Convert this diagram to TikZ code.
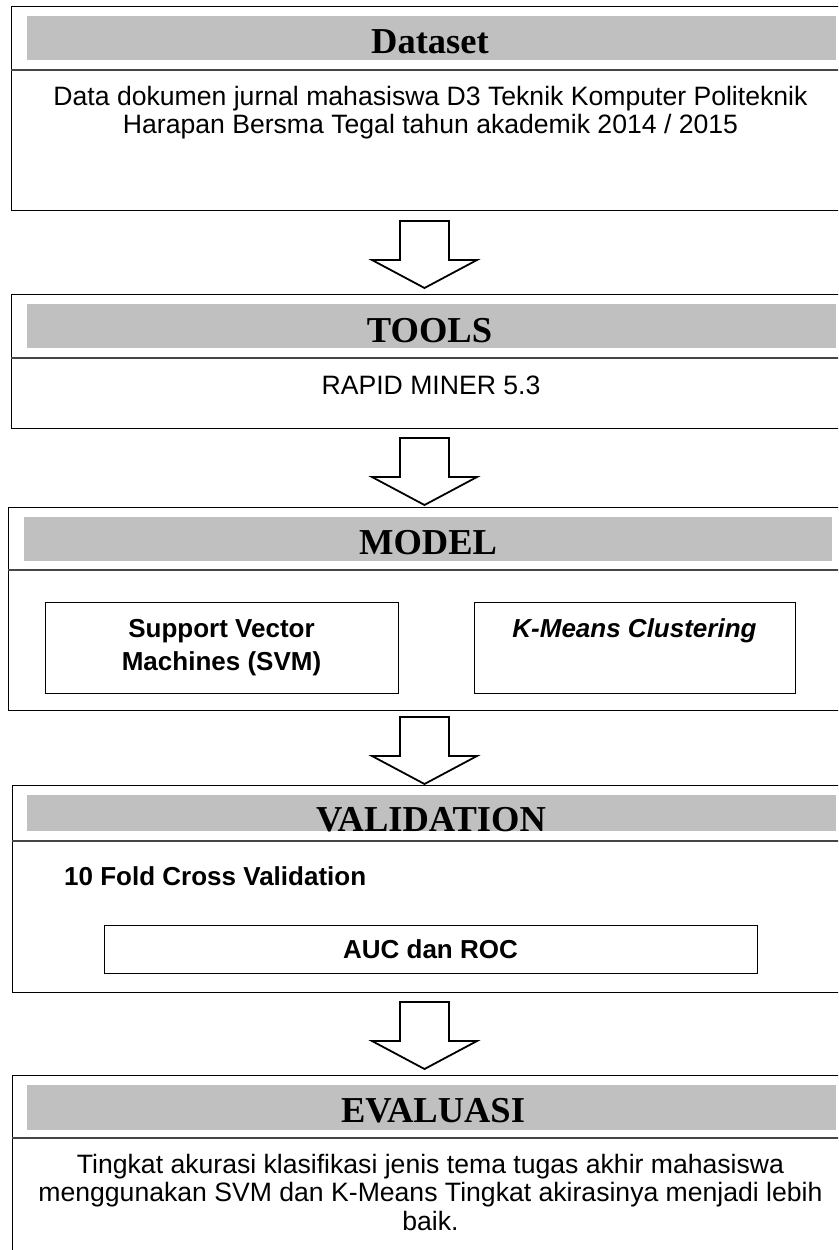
\documentclass[tikz,border=0pt]{standalone}
\usepackage{fontspec}
\setmainfont{Liberation Sans}
\newfontfamily\headfont{Liberation Serif}
\definecolor{barGrey}{RGB}{192,192,192}
\definecolor{sepGrey}{RGB}{70,70,70}
\tikzset{
  outerbox/.style={draw=black, line width=1pt, inner sep=0pt, anchor=north west},
  greybar/.style={fill=barGrey, inner sep=0pt, anchor=north west},
  headtext/.style={font=\headfont\bfseries\fontsize{36.5}{40}\selectfont, inner sep=0pt, anchor=base},
  bodytext/.style={font=\fontsize{26.6}{28.5}\selectfont, inner sep=0pt, align=center, anchor=base},
  boldtext/.style={font=\bfseries\fontsize{26}{33}\selectfont, inner sep=0pt, align=center, anchor=base},
  innerbox/.style={draw=black, line width=0.9pt, inner sep=0pt, anchor=north west},
  sepline/.style={draw=sepGrey, line width=1.3pt},
  blockarrow/.style={draw=black, line width=1.8pt, fill=white, line join=miter}
}
\begin{document}
\begin{tikzpicture}[x=1pt, y=-1pt]
  \useasboundingbox (0,0) rectangle (838,1250);
  \clip (0,0) rectangle (838,1250);
  \fill[white] (0,0) rectangle (838,1250);
  % Dataset
  \node[outerbox, minimum width=839, minimum height=204] (dataset) at (11,6) {};
  \node[greybar, minimum width=809, minimum height=44] (datasetbar) at (27,16) {};
  \draw[sepline] (dataset.west |- 0,70) -- (dataset.east |- 0,70);
  \node[headtext] (datasettitle) at (430,53) {Dataset};
  \node[bodytext] (datasettext) at (430.5,133.5)
    {Data dokumen jurnal mahasiswa D3 Teknik Komputer Politeknik\\
     Harapan Bersma Tegal tahun akademik 2014 / 2015};
  % Tools
  \node[outerbox, minimum width=839, minimum height=134] (tools) at (11,294) {};
  \node[greybar, minimum width=809, minimum height=44] (toolsbar) at (27,304) {};
  \draw[sepline] (tools.west |- 0,358) -- (tools.east |- 0,358);
  \node[headtext] (toolstitle) at (429.5,342) {TOOLS};
  \node[bodytext] (toolstext) at (431,394) {RAPID MINER 5.3};
  % Model
  \node[outerbox, minimum width=842, minimum height=203] (model) at (8,507) {};
  \node[greybar, minimum width=808, minimum height=44] (modelbar) at (24,517) {};
  \draw[sepline] (model.west |- 0,570) -- (model.east |- 0,570);
  \node[headtext] (modeltitle) at (428,554) {MODEL};
  \node[innerbox, minimum width=353, minimum height=91] (svm) at (45,602) {};
  \node[innerbox, minimum width=321, minimum height=91] (kmeans) at (474,602) {};
  \node[boldtext] (svmtext) at (221.5,670) {Support Vector\\Machines (SVM)};
  \node[boldtext] (kmeanstext) at (634.5,637) {\itshape K-Means Clustering};
  % Validation
  \node[outerbox, minimum width=838, minimum height=207] (validation) at (12,785) {};
  \node[greybar, minimum width=809, minimum height=36] (validationbar) at (27,795) {};
  \draw[sepline] (validation.west |- 0,841) -- (validation.east |- 0,841);
  \node[headtext] (validationtitle) at (431,831) {VALIDATION};
  \node[boldtext, anchor=base west] (foldtext) at (64,885) {10 Fold Cross Validation};
  \node[innerbox, minimum width=653, minimum height=48] (auc) at (104,925) {};
  \node[boldtext] (auctext) at (430.5,958) {AUC dan ROC};
  % Evaluasi
  \node[outerbox, minimum width=838, minimum height=190] (evaluasi) at (12,1075) {};
  \node[greybar, minimum width=809, minimum height=45] (evaluasibar) at (27,1085) {};
  \draw[sepline] (evaluasi.west |- 0,1138) -- (evaluasi.east |- 0,1138);
  \node[headtext] (evaluasititle) at (433,1122) {EVALUASI};
  \node[bodytext] (evaluasitext) at (430.5,1230)
    {Tingkat akurasi klasifikasi jenis tema tugas akhir mahasiswa\\
     menggunakan SVM dan K-Means Tingkat akirasinya menjadi lebih\\
     baik.};
  % arrows between the boxes
  \coordinate (arrowA) at (424.5,221);
  \coordinate (arrowB) at (424.5,438);
  \coordinate (arrowC) at (424.5,717);
  \coordinate (arrowD) at (424.5,1002);
  \foreach \a in {arrowA,arrowB,arrowC,arrowD}
    \draw[blockarrow] (\a) ++(-24.5,0) -- ++(49,0) -- ++(0,39) -- ++(28,0)
      -- ++(-52.5,28) -- ++(-52.5,-28) -- ++(28,0) -- cycle;
\end{tikzpicture}
\end{document}
